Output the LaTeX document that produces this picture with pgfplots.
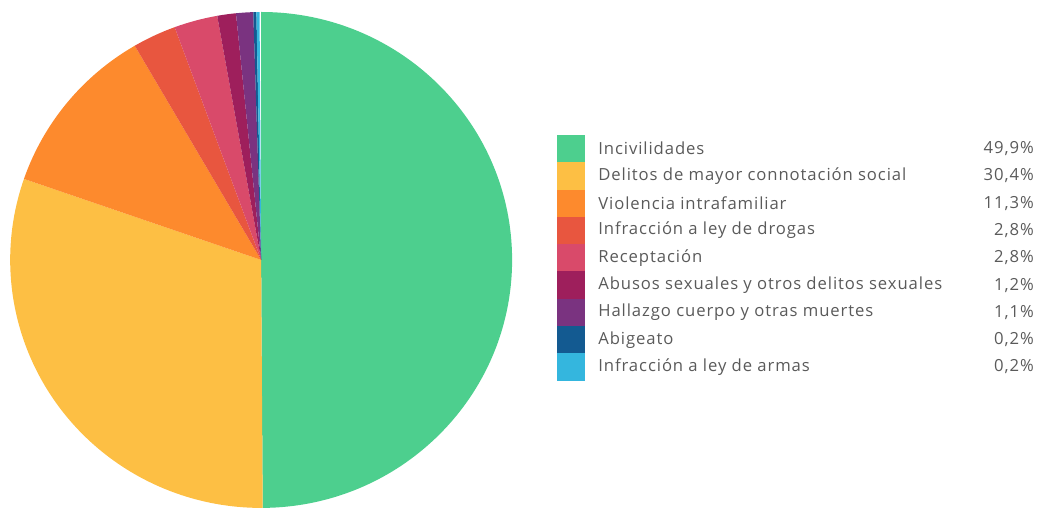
\documentclass[border=0pt]{standalone}
\usepackage{pgfplots}
\usepackage{pgfplotstable}
\pgfplotsset{compat=1.18}
\usepackage{fontspec}
\setmainfont[LetterSpace=5.5]{Open Sans}
\definecolor{cInc}{HTML}{4DCF8E}
\definecolor{cDel}{HTML}{FDBF44}
\definecolor{cVio}{HTML}{FD8A2D}
\definecolor{cDro}{HTML}{E8563F}
\definecolor{cRec}{HTML}{D94A6A}
\definecolor{cAbu}{HTML}{9E1F5C}
\definecolor{cHal}{HTML}{7A3380}
\definecolor{cAbi}{HTML}{135A91}
\definecolor{cArm}{HTML}{34B6DE}
\definecolor{txt}{HTML}{5A5A5A}
\pgfplotstableread[col sep=semicolon]{
label;value;pct;color
Incivilidades;49.9;49,9;cInc
Delitos de mayor connotación social;30.4;30,4;cDel
Violencia intrafamiliar;11.3;11,3;cVio
Infracción a ley de drogas;2.8;2,8;cDro
Receptación;2.8;2,8;cRec
Abusos sexuales y otros delitos sexuales;1.2;1,2;cAbu
Hallazgo cuerpo y otras muertes;1.1;1,1;cHal
Abigeato;0.2;0,2;cAbi
Infracción a ley de armas;0.2;0,2;cArm
}\pietable
\begin{document}
\begin{tikzpicture}
\begin{axis}[
  hide axis, scale only axis,
  width=779.25pt, height=383.25pt,
  xmin=0, xmax=1039, ymin=0, ymax=511,
  clip=false,
]
\path (axis cs:0,0) rectangle (axis cs:1039,511);
\def\cum{0}
\pgfplotsforeachungrouped \i in {0,...,8} {
  \pgfplotstablegetelem{\i}{value}\of\pietable \let\v\pgfplotsretval
  \pgfplotstablegetelem{\i}{color}\of\pietable \let\c\pgfplotsretval
  \pgfplotstablegetelem{\i}{label}\of\pietable \let\l\pgfplotsretval
  \pgfplotstablegetelem{\i}{pct}\of\pietable \let\p\pgfplotsretval
  \pgfmathsetmacro\a{90-3.6*\cum}
  \pgfmathsetmacro\b{90-3.6*(\cum+\v)}
  \pgfmathsetmacro\ytop{511-135-27.3*\i}
  \pgfmathsetmacro\ybot{\ytop-27.3}
  \pgfmathsetmacro\ymid{\ytop-13.65}
  \edef\temp{%
    \noexpand\fill[\c] (axis cs:261,251) -- ++(\a:188.25pt and 186pt)
      arc[start angle=\a, end angle=\b, x radius=188.25pt, y radius=186pt] -- cycle;
    \noexpand\fill[\c] (axis cs:557,\ytop) rectangle (axis cs:585,\ybot);
    \noexpand\node[anchor=west, text=txt, font=\noexpand\fontsize{12.5pt}{14pt}\noexpand\selectfont, inner sep=0pt] at (axis cs:598,\ymid) {\l};
    \noexpand\node[anchor=east, text=txt, font=\noexpand\fontsize{12.5pt}{14pt}\noexpand\selectfont, inner sep=0pt] at (axis cs:1034,\ymid) {\p\noexpand\%};
  }
  \temp
  \pgfmathsetmacro\cum{\cum+\v}
}
\end{axis}
\end{tikzpicture}
\end{document}
